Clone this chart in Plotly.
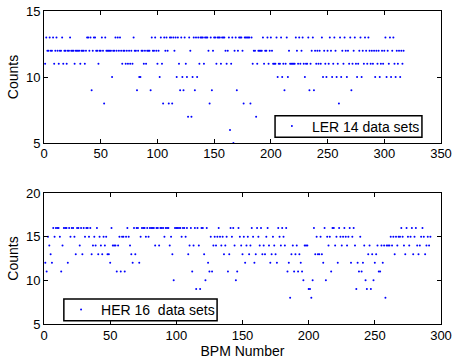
import plotly.graph_objects as go

# LER: counts per BPM (BPM 1..317)
ler_counts = [
    11,13,12,12,13,12,12,13,11,12, 13,12,11,12,12,13,11,12,12,11,
    12,12,13,12,12,12,11,12,12,12, 12,11,12,12,12,11,12,13,13,12,
    13,9,12,13,13,12,12,11,12,12, 13,12,8,13,12,12,12,12,12,10,
    12,12,13,12,13,12,13,12,11,12, 12,11,12,11,12,11,12,11,13,12,
    12,9,12,10,10,12,12,11,12,11, 12,12,12,9,13,12,12,13,12,11,
    12,10,13,11,8,13,12,13,12,8, 13,
    13,8,13,12,13,10,13,11,9,13, 10,9,13,11,10,7,13,12,7,10, 13,9,13,10,13,
    11,13,13,13,11,13,13,13,12,8, 13,9,12,13,13,11,13,13,13,11,
    13,13,13,12,11,12,13,6,11,13, 5,12,13,9,12,13,13,13,12,8,
    13,13,13,13,13,8,13,
    11,12,12,7,11,12,12,12,12,13, 11,12,12,13,11,12,13,12,11,11,
    11,13,10,11,11,13,10,11,9,11, 13,10,12,11,11,11,11,11,13,12,
    11,13,11,
    12,13,11,10,11,11,13,9,11,12, 13,9,12,11,12,11,12,11,13,10,
    12,11,10,12,11,13,12,10,11,13, 12,10,11,8,13,10,12,11,13,12,
    10,12,11,13,9,11,12,13,11,10, 11,12,13,10,12,11,13,12,11,13,
    12,11,12,11,12,10,12,11,12,10, 11,12,11,12,13,10,12,11,13,10,
    12,13,11,10,12,11,12,10,12,11, 12,
]
ler_bpm = list(range(1, len(ler_counts) + 1))

# HER: counts per BPM (BPM 1..292)
her_counts = [
    12,11,15,14,13,12,16,15,16,16, 16,15,11,14,16,16,16,12,16,15,
    16,16,15,13,16,16,14,16,13,16, 15,16,16,15,16,
    13,14,15,14,16,13,15,14,13,15, 14,15,13,13,12,16,
    14,14,14,11,14,15,11,15,15,11, 15,16,15,14,13,12,
    16,13,16,16,12,15,16,16,16,15, 16,15,16,16,16,16,14,16,16,14,
    16,16,16,15,16,16,16,14,15,13, 10,16,16,
    16,16,16,15,16,16,15,16,13,14, 16,11,14,16,9,16,14,9,16,16,
    13,10,16,12,11,15,11,14,15,14,
    15,16,15,14,15,13,14,15,11,13, 16,15,16,14,10,11,16,15,14,13,
    15,12,14,15,13,14,16,15,12,13,
    16,15,14,16,13,14,13,15,16,14, 12,13,15,14,13,12,16,15,14,16,
    15,14,16,11,12,8,13,14,11,13, 14,11,13,12,11,10,14,14,14,9, 9,8,
    10,16,13,15,13,13,15,13,12,16, 10,15,14,15,11,16,16,14,15,12,
    16,15,14,15,16,15,14,15,16,12, 15,16,14,9,12,11,15,11,12,14,
    10,9,13,14,9,13,10,12,13,14, 11,11,14,12,14,8,14,
    14,14,15,14,15,13,15,14,15,15, 16,15,14,13,16,15,14,15,16,13,
    15,16,14,13,14,15,16,15,13,14, 15,14,15,
]
her_bpm = list(range(1, len(her_counts) + 1))

ler_name = "LER 14 data sets"
her_name = "HER 16\u00a0 data sets"

FONT = "Liberation Sans, Arial, sans-serif"
BLUE = "#0000ff"

fig = go.Figure()
fig.add_trace(go.Scatter(x=ler_bpm, y=ler_counts, mode="markers", name=ler_name,
                         marker=dict(color=BLUE, size=2, line=dict(width=0)),
                         xaxis="x", yaxis="y", legend="legend"))
fig.add_trace(go.Scatter(x=her_bpm, y=her_counts, mode="markers", name=her_name,
                         marker=dict(color=BLUE, size=2, line=dict(width=0)),
                         xaxis="x2", yaxis="y2", legend="legend2"))

axis_common = dict(showline=True, linecolor="black", linewidth=1, mirror="ticks",
                   ticks="inside", ticklen=4, tickcolor="black", showgrid=False,
                   zeroline=False, automargin=False,
                   tickfont=dict(family=FONT, size=13, color="black"))

# legend frames (paper coordinates)
top_box = dict(x0=0.582, x1=0.952, y0=0.597, y1=0.665)
bot_box = dict(x0=0.050, x1=0.436, y0=0.010, y1=0.080)

fig.update_layout(
    width=453, height=360,
    margin=dict(l=44, r=12, t=11, b=36),
    paper_bgcolor="white", plot_bgcolor="white",
    font=dict(family=FONT, size=13, color="black"),
    xaxis=dict(domain=[0, 1], anchor="y", range=[0, 350], tickvals=[0, 50, 100, 150, 200, 250, 300, 350],
               ticklabelstandoff=-2, **axis_common),
    yaxis=dict(domain=[0.578, 1], anchor="x", range=[5, 15], tickvals=[5, 10, 15],
               title=dict(text="Counts", font=dict(family=FONT, size=14), standoff=4), **axis_common),
    xaxis2=dict(domain=[0, 1], anchor="y2", range=[0, 300], tickvals=[0, 50, 100, 150, 200, 250, 300],
                ticklabelstandoff=-1,
                title=dict(text="BPM Number", font=dict(family=FONT, size=14), standoff=0), **axis_common),
    yaxis2=dict(domain=[0, 0.4185], anchor="x2", range=[5, 20], tickvals=[5, 10, 15, 20],
                title=dict(text="Counts", font=dict(family=FONT, size=14), standoff=4), **axis_common),
    legend=dict(x=0.574, y=0.631, xanchor="left", yanchor="middle", bgcolor="rgba(0,0,0,0)",
                borderwidth=0, font=dict(family=FONT, size=14)),
    legend2=dict(x=0.043, y=0.045, xanchor="left", yanchor="middle", bgcolor="rgba(0,0,0,0)",
                 borderwidth=0, font=dict(family=FONT, size=14)),
    showlegend=True,
    shapes=[
        dict(type="rect", xref="paper", yref="paper", layer="above",
             line=dict(color="black", width=1.5), fillcolor="white", **top_box),
        dict(type="rect", xref="paper", yref="paper", layer="above",
             line=dict(color="black", width=1.5), fillcolor="white", **bot_box),
    ],
)

fig.write_html("out.html")
